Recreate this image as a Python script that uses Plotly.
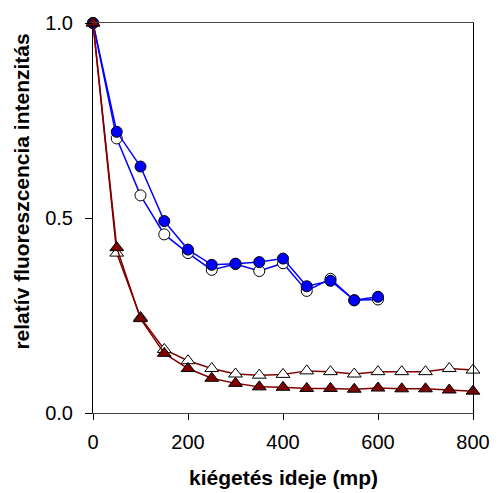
import plotly.graph_objects as go

time_circles = [0, 50, 100, 150, 200, 250, 300, 350, 400, 450, 500, 550, 600]
filled_circles = [1.0, 0.721, 0.632, 0.492, 0.419, 0.380, 0.383, 0.387, 0.396, 0.325, 0.339, 0.289, 0.298]
open_circles = [1.0, 0.704, 0.558, 0.458, 0.410, 0.367, 0.382, 0.364, 0.384, 0.313, 0.344, 0.289, 0.291]

time_triangles = [0, 50, 100, 150, 200, 250, 300, 350, 400, 450, 500, 550, 600, 650, 700, 750, 800]
filled_triangles = [1.0, 0.424, 0.242, 0.153, 0.114, 0.089, 0.076, 0.067, 0.066, 0.063, 0.063, 0.061, 0.064, 0.062, 0.062, 0.059, 0.056]
open_triangles = [1.0, 0.410, 0.245, 0.163, 0.134, 0.114, 0.100, 0.097, 0.099, 0.108, 0.106, 0.100, 0.106, 0.106, 0.106, 0.114, 0.110]

x_ticks = [0, 200, 400, 600, 800]
y_ticks = [0.0, 0.5, 1.0]

BLUE = "#0000FF"
RED = "#800000"

fig = go.Figure()
fig.add_trace(go.Scatter(x=time_circles, y=open_circles, mode="lines+markers",
                         line=dict(color=BLUE, width=1.5),
                         marker=dict(symbol="circle", size=11, color="white",
                                     line=dict(color="black", width=1)),
                         cliponaxis=False))
fig.add_trace(go.Scatter(x=time_circles, y=filled_circles, mode="lines+markers",
                         line=dict(color=BLUE, width=1.5),
                         marker=dict(symbol="circle", size=11, color=BLUE,
                                     line=dict(color="black", width=1)),
                         cliponaxis=False))
fig.add_trace(go.Scatter(x=time_triangles, y=open_triangles, mode="lines+markers",
                         line=dict(color=RED, width=1.5),
                         marker=dict(symbol="triangle-up", size=12, color="white",
                                     line=dict(color="black", width=1)),
                         cliponaxis=False))
fig.add_trace(go.Scatter(x=time_triangles, y=filled_triangles, mode="lines+markers",
                         line=dict(color=RED, width=1.5),
                         marker=dict(symbol="triangle-up", size=12, color=RED,
                                     line=dict(color="black", width=1)),
                         cliponaxis=False))

font_family = "Liberation Sans, Arial, sans-serif"

fig.update_layout(
    width=502, height=493,
    margin=dict(l=93, r=18, t=22, b=80),
    plot_bgcolor="white", paper_bgcolor="white",
    showlegend=False,
    font=dict(family=font_family, size=20, color="black"),
    xaxis=dict(range=[0, 800], tickvals=x_ticks, ticktext=[str(v) for v in x_ticks],
               showgrid=False, zeroline=False, showline=True, mirror=True,
               linecolor="#444", linewidth=1, ticks="outside", ticklen=6,
               tickcolor="black", tickfont=dict(size=20), ticklabelstandoff=5),
    yaxis=dict(range=[0, 1.0], tickvals=y_ticks, ticktext=[f"{v:.1f}" for v in y_ticks],
               showgrid=False, zeroline=False, showline=True, mirror=True,
               linecolor="black", linewidth=1, ticks="outside", ticklen=7,
               tickcolor="black", tickfont=dict(size=20), ticklabelstandoff=8),
    annotations=[
        dict(text="<b>kiégetés ideje (mp)</b>", xref="paper", yref="paper",
             x=0.5, y=0, yshift=-64, xanchor="center", yanchor="middle",
             showarrow=False, font=dict(size=21)),
        dict(text="<b>relatív fluoreszcencia intenzitás</b>", xref="paper", yref="paper",
             x=0, xshift=-71, y=(413 - 191) / 391, xanchor="center", yanchor="middle",
             textangle=-90, showarrow=False, font=dict(size=21)),
    ],
)

fig.write_html("out.html")
